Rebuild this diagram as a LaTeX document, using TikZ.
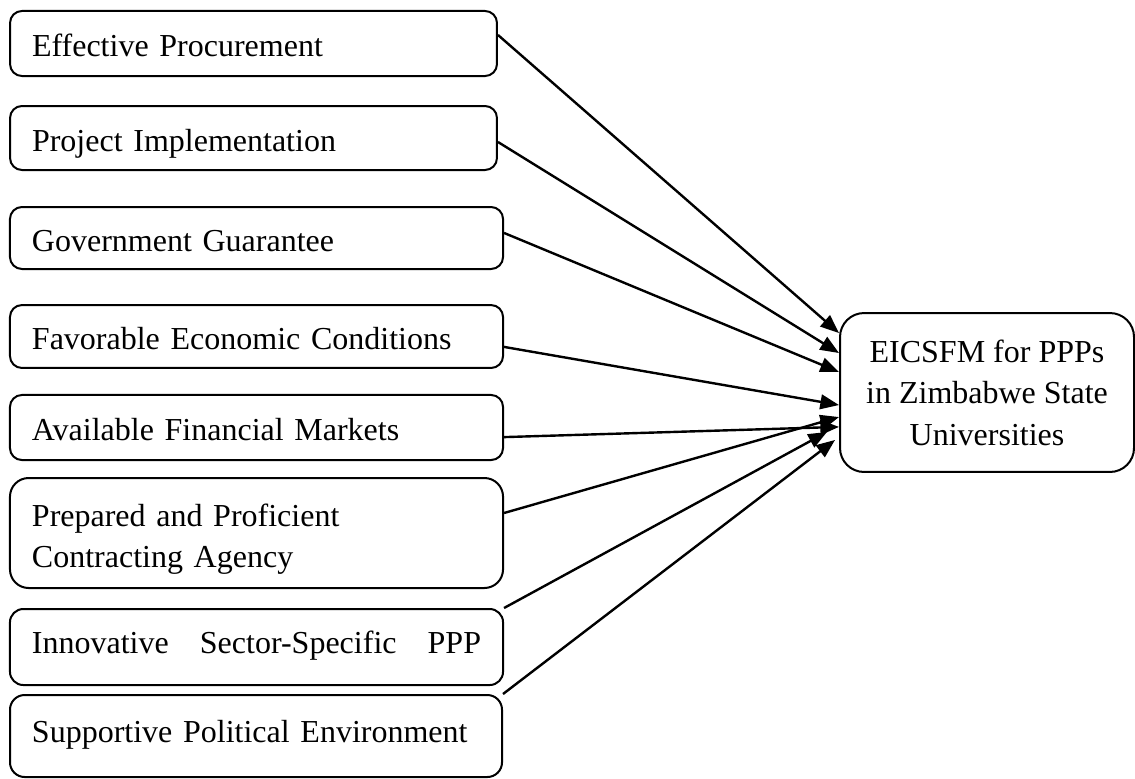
\documentclass[tikz,border=0pt]{standalone}
\usepackage{fontspec}
\setmainfont{Liberation Serif}
\usetikzlibrary{arrows.meta}

\begin{document}
\begin{tikzpicture}[x=0.375pt, y=-0.375pt,
	every node/.style={font=\fontsize{12}{15.6}\selectfont},
	factor/.style={draw, line width=0.75pt, rounded corners=4.5pt, inner xsep=8.25pt, inner ysep=0pt,
		align=left, text width=168.4pt, text height=12.5pt, text depth=2.4pt},
	outcome/.style={draw, line width=0.75pt, rounded corners=9pt, align=center,
		minimum width=110.25pt, minimum height=59.6pt},
	link/.style={-{Triangle[length=7pt,width=5.5pt]}, line width=0.9pt}]
	\useasboundingbox (0,0) rectangle (1135,778);

	% success factors
	\node[factor, minimum height=24.4pt, text width=166.1pt] (proc) at (253.5,43.5) {Effective Procurement};
	\node[factor, minimum height=24pt, text width=166.1pt] (impl) at (253.5,138) {Project Implementation};
	\node[factor, minimum height=23.25pt] (guar) at (256.5,238) {Government Guarantee};
	\node[factor, minimum height=23.6pt] (econ) at (256.5,336.5) {Favorable Economic Conditions};
	\node[factor, minimum height=24.4pt] (fin) at (256.5,427.5) {Available Financial Markets};
	\node[factor, minimum height=41.25pt, rounded corners=7pt, text height=8.2pt, text depth=13.4pt] (agency) at (256.5,533)
		{Prepared and Proficient\\Contracting Agency};
	\node[factor, minimum height=28.5pt, rounded corners=5pt, text height=8.5pt, text depth=4pt] (innov) at (256.5,647)
		{\hbox to 168.4pt{Innovative\hfill Sector-Specific\hfill PPP}};
	\node[factor, minimum height=30.75pt, rounded corners=5.5pt, text width=168pt, text height=8.5pt, text depth=4pt] (polit) at (256,736)
		{Supportive Political Environment};

	% framework
	\node[outcome] (eicsfm) at (987,392.5) {EICSFM for PPPs\\in Zimbabwe State\\Universities};

	\path[link]
	([yshift=3.2pt]proc.east) edge ([yshift=22.3pt]eicsfm.west)
	([yshift=-1.5pt]impl.east) edge ([yshift=14.8pt]eicsfm.west)
	([yshift=1.9pt]guar.east) edge ([yshift=7.7pt]eicsfm.west)
	([yshift=-3.9pt]econ.east) edge ([yshift=-4.7pt]eicsfm.west)
	([yshift=-3.6pt]fin.east) edge ([yshift=-12.9pt]eicsfm.west)
	([yshift=7.5pt]agency.east) edge ([yshift=-9.2pt]eicsfm.west)
	(innov.north east) edge ([xshift=-4.5pt,yshift=-14.8pt]eicsfm.west)
	(polit.north east) edge ([xshift=-1.5pt,yshift=-17.8pt]eicsfm.west);
\end{tikzpicture}
\end{document}
